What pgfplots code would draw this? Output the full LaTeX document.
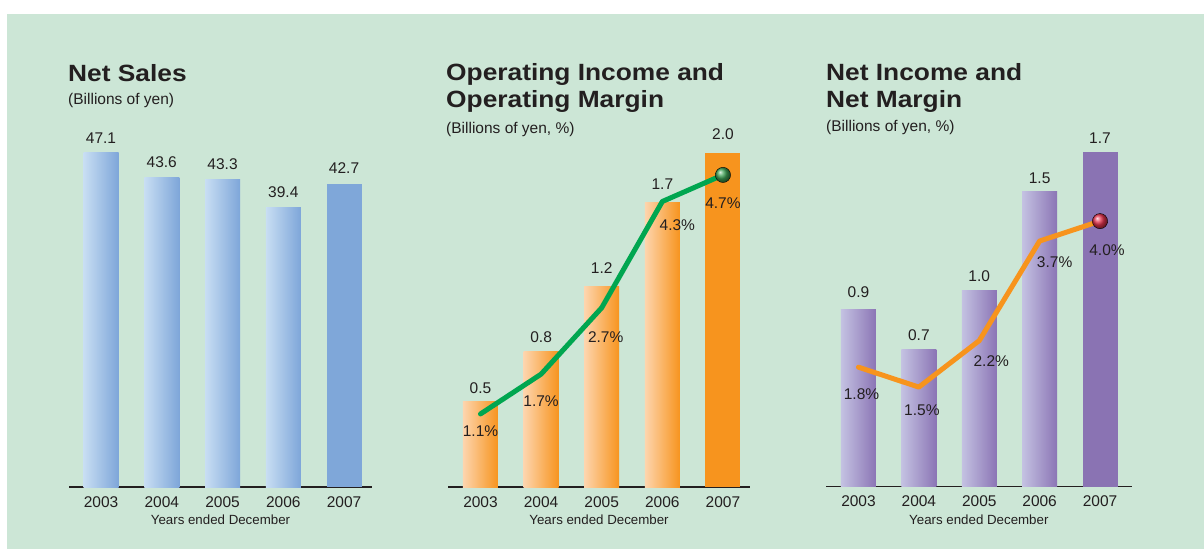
\documentclass[border=0pt]{standalone}
\usepackage{graphicx}
\usepackage{fontspec}
\setmainfont{Liberation Sans}
\usepackage{pgfplots}
\pgfplotsset{compat=1.18}
\usepackage{pgfplotstable}

\definecolor{bg}{HTML}{CCE6D6}
\definecolor{txt}{HTML}{231F20}
\definecolor{blueL}{HTML}{C8DEF3}
\definecolor{blueD}{HTML}{7EA6D9}
\definecolor{blueS}{HTML}{7FA7D9}
\definecolor{orL}{HTML}{FDD5AE}
\definecolor{orD}{HTML}{F7941E}
\definecolor{orS}{HTML}{F7941E}
\definecolor{purL}{HTML}{C4C2E2}
\definecolor{purD}{HTML}{8B75B5}
\definecolor{purS}{HTML}{8A73B3}
\definecolor{lineG}{HTML}{00A650}
\definecolor{lineO}{HTML}{F7941D}
\definecolor{gBall}{HTML}{3FA456}
\definecolor{rBall}{HTML}{E8354F}

% ---------- data ----------
\pgfplotstableread{
x y lab dy
0 47.1 47.1 8.7
1 43.6 43.6 9.4
2 43.3 43.3 9.4
3 39.4 39.4 9.4
4 42.7 42.7 10
}\sales
\pgfplotstableread{
x y lab dy
0 0.51 0.5 8.4
1 0.81 0.8 8.4
2 1.20 1.2 12.4
3 1.70 1.7 12.7
4 2.00 2.0 12.7
}\opinc
\pgfplotstableread{
x y lab dx dy
0 1.1 1.1 0 -9
1 1.7 1.7 0 -19
2 2.7 2.7 4 -21.7
3 4.3 4.3 15 -16
4 4.7 4.7 0 -20
}\opM
\pgfplotstableread{
x y lab dy
0 0.9 0.9 11.7
1 0.7 0.7 8
2 1.0 1.0 8.3
3 1.5 1.5 7.4
4 1.7 1.7 9
}\netinc
\pgfplotstableread{
x y lab dx dy
0 1.8 1.8 3 -19.4
1 1.5 1.5 3 -15
2 2.2 2.2 12 -12.7
3 3.7 3.7 15 -12.7
4 4.0 4.0 7 -21
}\niM

\pgfplotsset{
  base/.style={
    scale only axis, anchor=south west, clip=false,
    ymin=0, enlargelimits=false,
    axis x line=bottom, axis y line=none,
    x axis line style={-, line width=1.4pt, draw=txt},
    xtick={0,1,2,3,4}, xticklabels={2003,2004,2005,2006,2007},
    major tick length=0pt, ytick=\empty,
    xticklabel style={font=\fontsize{15.5}{18}\selectfont, text=txt, inner sep=0pt, anchor=north, yshift=-9pt},
    xlabel={Years ended December},
    xlabel style={font=\fontsize{13.3}{16}\selectfont, text=txt, at={(axis description cs:0.5,0)}, anchor=north, inner sep=0pt, yshift=-28pt},
  },
  over/.style={scale only axis, anchor=south west, clip=false, hide axis,
    ymin=0, ymax=5.035, enlargelimits=false},
  barplot/.style={ybar, bar shift=0pt, bar width=35pt, draw=none,
    visualization depends on={\thisrow{dy}\as\dy},
    nodes near coords={\pgfplotspointmeta}, point meta=explicit symbolic,
    every node near coord/.append style={font=\fontsize{15.5}{18}\selectfont, text=txt, inner sep=0pt, anchor=south, yshift=\dy pt}},
  marginplot/.style={line width=5pt, line join=round, line cap=round, mark=none,
    visualization depends on={\thisrow{dx}\as\dx},
    visualization depends on={\thisrow{dy}\as\dy},
    nodes near coords={\pgfplotspointmeta\%}, point meta=explicit symbolic,
    every node near coord/.append style={font=\fontsize{15.5}{18}\selectfont, text=txt, inner sep=0pt, anchor=north, xshift=\dx pt, yshift=\dy pt}},
  endball/.style={only marks, mark=ball, mark size=7.6pt, restrict x to domain=3.7:4.3},
}

\newcommand{\ttl}[1]{\scalebox{1.12}[1]{\fontsize{23.5}{26}\selectfont\bfseries #1}}
\newcommand{\sub}[1]{{\fontsize{15.5}{18}\selectfont #1}}
% one shaded bar: table, x range lo, hi, light colour, dark colour
\newcommand{\onebar}[5]{\addplot[barplot, left color=#4, right color=#5, restrict x to domain=#2:#3] table[x=x,y=y,meta=lab] {#1};}
\newcommand{\solidbar}[4]{\addplot[barplot, fill=#4, restrict x to domain=#2:#3] table[x=x,y=y,meta=lab] {#1};}

\begin{document}
\begin{tikzpicture}
\useasboundingbox (0,0) rectangle (1204pt,549pt);
\fill[white] (0,0) rectangle (1204pt,549pt);
\fill[bg] (7pt,0) rectangle (1204pt,535pt);

% titles
\node[anchor=base west, inner sep=0pt, text=txt] at (68pt,467pt) {\ttl{Net Sales}};
\node[anchor=base west, inner sep=0pt, text=txt] at (68pt,444pt) {\sub{(Billions of yen)}};
\node[anchor=base west, inner sep=0pt, text=txt] at (446pt,468pt) {\ttl{Operating Income and}};
\node[anchor=base west, inner sep=0pt, text=txt] at (446pt,441.5pt) {\ttl{Operating Margin}};
\node[anchor=base west, inner sep=0pt, text=txt] at (446pt,415.5pt) {\sub{(Billions of yen, \%)}};
\node[anchor=base west, inner sep=0pt, text=txt] at (826pt,468pt) {\ttl{Net Income and}};
\node[anchor=base west, inner sep=0pt, text=txt] at (826pt,441.5pt) {\ttl{Net Margin}};
\node[anchor=base west, inner sep=0pt, text=txt] at (826pt,417pt) {\sub{(Billions of yen, \%)}};

% Panel 1
\begin{axis}[base, at={(69pt,62pt)}, width=303pt, height=334.3pt,
  xmin=-0.527, xmax=4.46, ymax=47.1]
\onebar{\sales}{-0.3}{0.3}{blueL}{blueD}
\onebar{\sales}{0.7}{1.3}{blueL}{blueD}
\onebar{\sales}{1.7}{2.3}{blueL}{blueD}
\onebar{\sales}{2.7}{3.3}{blueL}{blueD}
\solidbar{\sales}{3.7}{4.3}{blueS}
\end{axis}

% Panel 2
\begin{axis}[base, at={(448pt,62pt)}, width=302pt, height=334.3pt,
  xmin=-0.536, xmax=4.446, ymax=2.0]
\onebar{\opinc}{-0.3}{0.3}{orL}{orD}
\onebar{\opinc}{0.7}{1.3}{orL}{orD}
\onebar{\opinc}{1.7}{2.3}{orL}{orD}
\onebar{\opinc}{2.7}{3.3}{orL}{orD}
\solidbar{\opinc}{3.7}{4.3}{orS}
\end{axis}
\begin{axis}[over, at={(448pt,62pt)}, width=302pt, height=334.3pt,
  xmin=-0.536, xmax=4.446]
\addplot[marginplot, color=lineG] table[x=x,y=y,meta=lab] {\opM};
\addplot[endball, mark options={ball color=gBall}] table[x=x,y=y] {\opM};
\end{axis}

% Panel 3
\begin{axis}[base, at={(826pt,62.3pt)}, width=305.7pt, height=334.3pt,
  xmin=-0.538, xmax=4.525, ymax=1.7]
\onebar{\netinc}{-0.3}{0.3}{purL}{purD}
\onebar{\netinc}{0.7}{1.3}{purL}{purD}
\onebar{\netinc}{1.7}{2.3}{purL}{purD}
\onebar{\netinc}{2.7}{3.3}{purL}{purD}
\solidbar{\netinc}{3.7}{4.3}{purS}
\end{axis}
\begin{axis}[over, at={(826pt,62.3pt)}, width=305.7pt, height=334.3pt,
  xmin=-0.538, xmax=4.525]
\addplot[marginplot, color=lineO] table[x=x,y=y,meta=lab] {\niM};
\addplot[endball, mark options={ball color=rBall}] table[x=x,y=y] {\niM};
\end{axis}
\end{tikzpicture}
\end{document}
